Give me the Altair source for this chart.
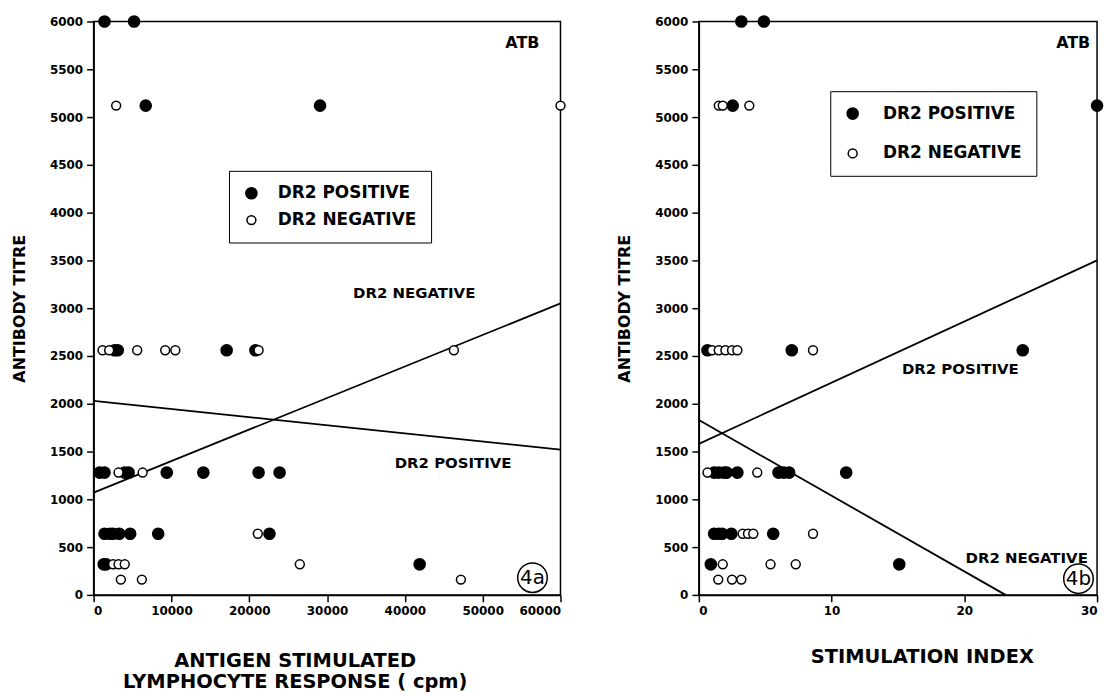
import altair as alt
import pandas as pd

POS = "DR2 POSITIVE"
NEG = "DR2 NEGATIVE"
FONT = "DejaVu Sans"

# ---------------- Fig 4a : antigen stimulated lymphocyte response (cpm) ----------------
a_pos_x = [1400, 5200, 6700, 29100, 2700, 3100, 17100, 20800,
           770, 1400, 4000, 4500, 9400, 14100, 21200, 23900,
           1400, 2100, 2500, 3300, 4700, 8300, 22600,
           1300, 1600, 41900]
a_pos_y = [6000, 6000, 5120, 5120, 2560, 2560, 2560, 2560,
           1280, 1280, 1280, 1280, 1280, 1280, 1280, 1280,
           640, 640, 640, 640, 640, 640, 640,
           320, 320, 320]
a_neg_x = [2900, 60000, 1150, 2000, 5600, 9200, 10500, 21200, 46300,
           3200, 6300, 21100, 2500, 3200, 4000, 26500, 3500, 6200, 47200]
a_neg_y = [5120, 5120, 2560, 2560, 2560, 2560, 2560, 2560, 2560,
           1280, 1280, 640, 320, 320, 320, 320, 160, 160, 160]
# regression lines (end points)
a_line_neg_x = [0, 60000]
a_line_neg_y = [1070, 3050]
a_line_pos_x = [0, 60000]
a_line_pos_y = [2030, 1520]

# ---------------- Fig 4b : stimulation index ----------------
b_pos_x = [3.2, 4.9, 2.55, 30, 0.65, 7.0, 24.4,
           1.15, 1.5, 1.9, 2.1, 2.9, 6.0, 6.4, 6.8, 11.1,
           1.15, 1.5, 1.75, 2.45, 5.6, 0.9, 15.1]
b_pos_y = [6000, 6000, 5120, 5120, 2560, 2560, 2560,
           1280, 1280, 1280, 1280, 1280, 1280, 1280, 1280, 1280,
           640, 640, 640, 640, 640, 320, 320]
b_neg_x = [1.5, 1.8, 3.8, 1.0, 1.5, 2.0, 2.5, 2.9, 8.6,
           0.65, 4.4, 3.3, 3.7, 4.1, 8.6, 1.8, 5.4, 7.3, 1.46, 2.5, 3.2]
b_neg_y = [5120, 5120, 5120, 2560, 2560, 2560, 2560, 2560, 2560,
           1280, 1280, 640, 640, 640, 640, 320, 320, 320, 160, 160, 160]
b_line_pos_x = [0, 30]
b_line_pos_y = [1580, 3500]
b_line_neg_x = [0, 23.1]
b_line_neg_y = [1830, 0]

y_ticks = list(range(0, 6001, 500))

AXIS_STYLE = dict(labelFont=FONT, labelFontWeight="bold", labelFontSize=12, labelColor="black",
                  titleFont=FONT, titleFontWeight="bold", titleColor="black",
                  domainColor="black", domainWidth=1.5, tickColor="black", tickWidth=1.5,
                  tickSize=7, labelPadding=4, grid=False)


def panel(pos_x, pos_y, neg_x, neg_y, lines, xdom, xticks, xtitle, width,
          notes, tag, tag_xy, leg_xy, leg_row, leg_font, leg_pad, leg_off,
          xtitle_pad, xtitle_size, xtitle_x):
    pts = pd.DataFrame({
        "x": pos_x + neg_x,
        "y": pos_y + neg_y,
        "group": [POS] * len(pos_x) + [NEG] * len(neg_x),
    })
    xs = alt.Scale(domain=xdom, nice=False, zero=False)
    ys = alt.Scale(domain=[0, 6000], nice=False)
    xenc = alt.X("x:Q", scale=xs, axis=alt.Axis(values=xticks, format="d", title=xtitle,
                                                titlePadding=xtitle_pad, titleFontSize=xtitle_size,
                                                titleLineHeight=21, titleX=xtitle_x,
                                                titleAlign="center", **AXIS_STYLE))
    yenc = alt.Y("y:Q", scale=ys, axis=alt.Axis(values=y_ticks, format="d", title="ANTIBODY TITRE",
                                                titlePadding=22, titleFontSize=16, **AXIS_STYLE))
    leg = alt.Legend(orient="none", legendX=leg_xy[0], legendY=leg_xy[1], title=None,
                     strokeColor="black", fillColor="white", padding=leg_pad,
                     rowPadding=leg_row, labelFont=FONT, labelFontSize=leg_font,
                     labelFontWeight="bold", labelColor="black", labelOffset=leg_off,
                     symbolStrokeWidth=1.5, symbolType="circle")
    point_layer = alt.Chart(pts).mark_point(filled=True, shape="circle", opacity=1,
                                            strokeWidth=1.5).encode(
        x=xenc, y=yenc,
        fill=alt.Fill("group:N", scale=alt.Scale(domain=[POS, NEG], range=["black", "white"]), legend=leg),
        stroke=alt.Stroke("group:N", scale=alt.Scale(domain=[POS, NEG], range=["black", "black"]), legend=leg),
        size=alt.Size("group:N", scale=alt.Scale(domain=[POS, NEG], range=[125, 80]), legend=leg),
    )
    ldf = pd.DataFrame({
        "x": lines[0] + lines[2],
        "y": lines[1] + lines[3],
        "series": ["neg", "neg", "pos", "pos"],
    })
    line_layer = alt.Chart(ldf).mark_line(color="black", strokeWidth=1.8).encode(
        x=alt.X("x:Q", scale=xs), y=alt.Y("y:Q", scale=ys), detail="series:N")
    text_layers = []
    for (nx, ny, nt, ns) in notes:
        ndf = pd.DataFrame({"x": [nx], "y": [ny], "t": [nt]})
        text_layers.append(alt.Chart(ndf).mark_text(font=FONT, fontWeight="bold", color="black",
                                                    fontSize=ns, align="center", baseline="middle").encode(
            x=alt.X("x:Q", scale=xs), y=alt.Y("y:Q", scale=ys), text="t:N"))
    tdf = pd.DataFrame({"x": [tag_xy[0]], "y": [tag_xy[1]], "t": [tag]})
    tag_circle = alt.Chart(tdf).mark_point(shape="circle", size=880, color="black",
                                           strokeWidth=1.5, filled=False, opacity=1).encode(
        x=alt.X("x:Q", scale=xs), y=alt.Y("y:Q", scale=ys))
    tag_text = alt.Chart(tdf).mark_text(font=FONT, fontSize=20, color="black",
                                        align="center", baseline="middle").encode(
        x=alt.X("x:Q", scale=xs), y=alt.Y("y:Q", scale=ys), text="t:N")
    return alt.layer(line_layer, point_layer, *text_layers, tag_circle, tag_text).properties(
        width=width, height=576)


left = panel(a_pos_x, a_pos_y, a_neg_x, a_neg_y,
             [a_line_neg_x, a_line_neg_y, a_line_pos_x, a_line_pos_y],
             [0, 60000], list(range(0, 60001, 10000)),
             ["ANTIGEN STIMULATED", "LYMPHOCYTE RESPONSE ( cpm)"], 469,
             [(55100, 5770, "ATB", 16), (41200, 3160, NEG, 15), (46200, 1385, POS, 15)],
             "4a", (56400, 180), (136, 150), 8, 17, 14, 18, 35, 19.5, 202)

right = panel(b_pos_x, b_pos_y, b_neg_x, b_neg_y,
              [b_line_neg_x, b_line_neg_y, b_line_pos_x, b_line_pos_y],
              [0, 30], [0, 10, 20, 30],
              "STIMULATION INDEX", 400,
              [(28.2, 5780, "ATB", 16), (19.7, 2360, POS, 15), (24.7, 390, NEG, 15)],
              "4b", (28.6, 170), (132, 70), 21, 17, 14, 22, 31, 19.5, 224)

chart = alt.hconcat(left, right, spacing=46).resolve_scale(
    fill="independent", stroke="independent", size="independent", x="independent", y="independent"
).resolve_legend(fill="independent", stroke="independent", size="independent").properties(
    padding={"left": 2, "top": 2, "right": 2, "bottom": 2}, background="white"
).configure_view(stroke="black", strokeWidth=1.5)

chart.save("out.html", embed_options={"renderer": "svg", "actions": False})
